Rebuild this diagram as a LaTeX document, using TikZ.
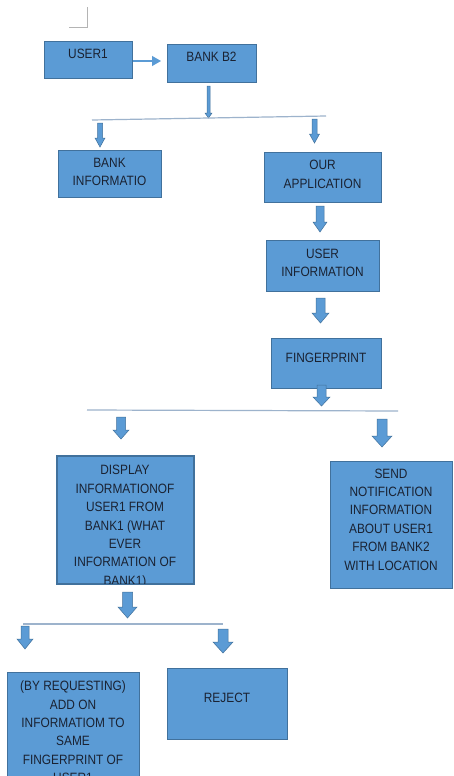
\documentclass[tikz,border=0pt]{standalone}
\usepackage{fontspec}
\setmainfont{Liberation Sans}[FakeStretch=0.88]
\usetikzlibrary{arrows.meta}
\definecolor{boxfill}{HTML}{5B9BD5}
\definecolor{boxedge}{HTML}{41719C}
\definecolor{ink}{HTML}{1A2232}
\definecolor{rule}{HTML}{9DB3CC}
\definecolor{corner}{HTML}{B4B4B4}
% down-pointing block arrow: centre x, top, tip, head width, shaft width, head length
\newcommand\downblock[6]{%
  \filldraw[blockarrow]
    ({#1-#5/2},#2) -- ({#1+#5/2},#2) -- ({#1+#5/2},{#3-#6}) -- ({#1+#4/2},{#3-#6})
    -- (#1,#3) -- ({#1-#4/2},{#3-#6}) -- ({#1-#5/2},{#3-#6}) -- cycle;}
\begin{document}
\begin{tikzpicture}[x=1pt,y=-1pt,
  box/.style={draw=boxedge, fill=boxfill, line width=1.1pt, inner sep=0pt, anchor=north west},
  txt/.style={text=ink, inner sep=0pt, align=center,
    font=\fontsize{13.5}{18.4}\selectfont},
  blockarrow/.style={fill=boxfill, draw=boxedge, line width=0.5pt},
  divider/.style={draw=rule, line width=1.2pt},
  flow/.style={draw=boxfill, line width=1.1pt, -{Triangle[length=9pt,width=10pt]}}]

\fill[white] (0,0) rectangle (453,776);
\useasboundingbox (0,0) rectangle (453,776);

% corner mark
\draw[corner, line width=0.9pt] (69,27) -- (87,27) -- (87,7);

% top row
\node[box, minimum width=88, minimum height=37] (user1) at (44,41) {};
\node[txt] (tuser1) at (88,54) {USER1};
\node[box, minimum width=89, minimum height=38] (bankb2) at (167,44) {};
\node[txt] (tbankb2) at (211.5,57) {BANK B2};
\draw[flow, shorten >=6pt] (user1.east |- 0,61) -- (bankb2.west |- 0,61);

\downblock{208.5}{86}{118}{7}{3}{5}
\path[divider] (92,120) coordinate (d1a) -- (326,116) coordinate (d1b);

% first branch
\downblock{100}{123}{147}{10}{5}{9}
\downblock{314.5}{119}{143}{10}{5}{9}
\node[box, minimum width=103, minimum height=47] (bankinfo) at (58,150) {};
\node[txt] (tbankinfo) at (109.5,172) {BANK\\INFORMATIO};
\node[box, minimum width=117, minimum height=50] (ourapp) at (264,152) {};
\node[txt] (tourapp) at (322.5,174.5) {OUR\\APPLICATION};

\downblock{320}{206}{232}{14}{8}{10}
\node[box, minimum width=113, minimum height=51] (userinfo) at (266,240) {};
\node[txt] (tuserinfo) at (322.5,263) {USER\\INFORMATION};

\downblock{320.5}{298}{323}{17}{9}{10}
\node[box, minimum width=110, minimum height=50] (finger) at (271,338) {};
\node[txt] (tfinger) at (326,358) {FINGERPRINT};
\downblock{321.5}{385}{406}{17}{9}{9}
\path[divider] (87,410) coordinate (d2a) -- (398,411) coordinate (d2b);

% second branch
\downblock{121}{417}{439}{16}{9}{9}
\downblock{382}{419}{447}{20}{10}{11}
\node[box, minimum width=136, minimum height=127] (display) at (57,456) {};
\begin{scope}
  \clip (display.north west) rectangle (display.south east);
  \node[txt, anchor=north] (tdisplay) at (125,465.2)
    {DISPLAY\\INFORMATIONOF\\USER1 FROM\\BANK1 (WHAT\\EVER\\INFORMATION OF\\BANK1)};
\end{scope}
\draw[boxedge, line width=1.1pt] (display.north west) rectangle (display.south east);

\node[box, minimum width=122, minimum height=127] (send) at (330,461) {};
\node[txt] (tsend) at (391,519.5)
  {SEND\\NOTIFICATION\\INFORMATION\\ABOUT USER1\\FROM BANK2\\WITH LOCATION};

\downblock{127.5}{592}{618}{19}{10}{11}
\path[divider] (23,624) coordinate (d3a) -- (223,624) coordinate (d3b);

% third branch
\downblock{25}{626}{649}{16}{8}{10}
\downblock{223}{629}{653}{20}{10}{11}
\node[box, minimum width=132, minimum height=120] (byreq) at (7,672) {};
\begin{scope}
  \clip (0,0) rectangle (453,776);
  \node[txt, anchor=north] (tbyreq) at (73,680.7)
    {(BY REQUESTING)\\ADD ON\\INFORMATIOM TO\\SAME\\FINGERPRINT OF\\USER1};
\end{scope}
\node[box, minimum width=120, minimum height=71] (reject) at (167,668) {};
\node[txt] (treject) at (227,698) {REJECT};
\end{tikzpicture}
\end{document}
